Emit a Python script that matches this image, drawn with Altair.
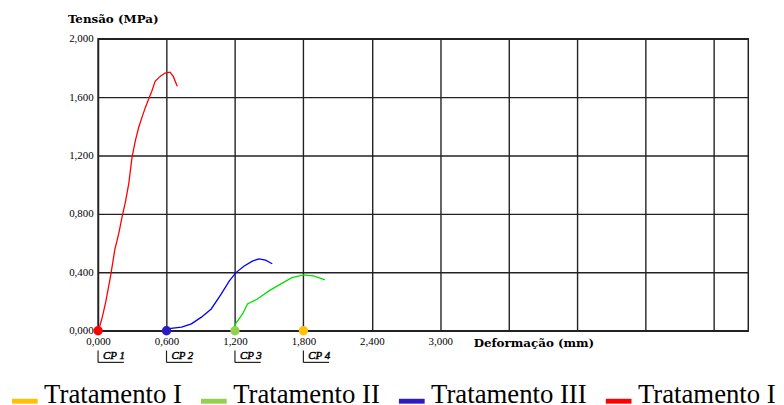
import altair as alt
import pandas as pd

# ---- data ----
series_names = ["Tratamento I", "Tratamento II", "Tratamento III", "Tratamento IV"]

# Tratamento IV (red curve, CP 1)
iv_x = [0.0, 0.017, 0.037, 0.067, 0.110, 0.147, 0.182, 0.211, 0.240, 0.269, 0.298, 0.327,
        0.356, 0.384, 0.414, 0.442, 0.471, 0.500, 0.544, 0.587, 0.631, 0.659, 0.694]
iv_y = [0.0, 0.036, 0.093, 0.195, 0.375, 0.556, 0.669, 0.782, 0.883, 1.008, 1.189, 1.302,
        1.392, 1.460, 1.528, 1.584, 1.641, 1.708, 1.742, 1.765, 1.771, 1.742, 1.675]

# Tratamento III (blue curve, CP 2)
iii_x = [0.600, 0.622, 0.732, 0.818, 0.906, 0.992, 1.079, 1.151, 1.209, 1.281, 1.353, 1.410, 1.468, 1.527]
iii_y = [0.0, 0.014, 0.025, 0.047, 0.093, 0.149, 0.250, 0.341, 0.398, 0.443, 0.477, 0.492, 0.483, 0.459]

# Tratamento II (green curve, CP 3)
ii_x = [1.200, 1.205, 1.267, 1.310, 1.397, 1.498, 1.599, 1.700, 1.800, 1.888, 1.989]
ii_y = [0.020, 0.047, 0.115, 0.183, 0.217, 0.273, 0.319, 0.364, 0.382, 0.375, 0.348]

# start markers of each specimen
marker_series = ["Tratamento I", "Tratamento II", "Tratamento III", "Tratamento IV"]
marker_x = [1.8, 1.2, 0.6, 0.0]
marker_y = [0.0, 0.0, 0.0, 0.0]

# specimen labels
cp_labels = ["CP 1", "CP 2", "CP 3", "CP 4"]
cp_x = [0.0, 0.6, 1.2, 1.8]

# axis ticks
x_ticks = [round(0.3 * i, 1) for i in range(20)]
y_ticks = [round(0.2 * i, 1) for i in range(11)]

legend_colors = ["#FFC000", "#92D050", "#2B1BC0", "#FF0000"]
line_colors = ["#FFC000", "#00E000", "#0000FF", "#FF0000"]

# ---- build tables ----
lines_df = pd.concat([
    pd.DataFrame({"x": iv_x, "y": iv_y, "serie": "Tratamento IV"}),
    pd.DataFrame({"x": iii_x, "y": iii_y, "serie": "Tratamento III"}),
    pd.DataFrame({"x": ii_x, "y": ii_y, "serie": "Tratamento II"}),
], ignore_index=True)
markers_df = pd.DataFrame({"x": marker_x, "y": marker_y, "serie": marker_series})
cp_df = pd.DataFrame({"x": cp_x, "label": cp_labels})

SERIF = "Liberation Serif"
BOLD_SERIF = "DejaVu Serif"
fmt = "replace(format(datum.value, '.3f'), '.', ',')"

x_scale = alt.Scale(domain=[0, 5.7], nice=False, zero=False)
y_scale = alt.Scale(domain=[0, 2.0], nice=False)

x_axis = alt.Axis(
    values=x_ticks,
    labelExpr="datum.value <= 3.05 && round(datum.value * 10) % 6 == 0 ? " + fmt + " : ''",
    title="Deformação (mm)", titleX=379, titleY=16, titleAlign="left",
    titleBaseline="alphabetic", titleAnchor="start",
    titleFont=BOLD_SERIF, titleFontSize=12, titleFontWeight="bold", titleColor="#000",
    labelFont=SERIF, labelFontSize=11, labelFontWeight="normal", labelColor="#000",
    labelPadding=5, labelFlush=False, labelOverlap=False,
    ticks=False, domain=False,
    grid=True, gridColor="#222", gridWidth=1.4, gridOpacity=1,
)
y_axis = alt.Axis(
    values=y_ticks,
    labelExpr="round(datum.value * 10) % 4 == 0 ? " + fmt + " : ''",
    title="Tensão (MPa)", titleAngle=0, titleX=-31, titleY=-16, titleAlign="left",
    titleBaseline="alphabetic",
    titleFont=BOLD_SERIF, titleFontSize=12, titleFontWeight="bold", titleColor="#000",
    labelFont=SERIF, labelFontSize=11, labelFontWeight="normal", labelColor="#000",
    labelPadding=5, labelFlush=False, labelOverlap=False,
    ticks=False, domain=False,
    grid=True, gridColor="#222", gridWidth=1.4, gridOpacity=1,
)

lines = alt.Chart(lines_df).mark_line(strokeWidth=1.3, clip=False).encode(
    x=alt.X("x:Q", scale=x_scale, axis=x_axis),
    y=alt.Y("y:Q", scale=y_scale, axis=y_axis),
    color=alt.Color("serie:N", scale=alt.Scale(domain=series_names, range=line_colors), legend=None),
    detail="serie:N",
)

markers = alt.Chart(markers_df).mark_point(filled=True, size=90, opacity=1, clip=False).encode(
    x=alt.X("x:Q", scale=x_scale),
    y=alt.Y("y:Q", scale=y_scale),
    color=alt.Color(
        "serie:N",
        scale=alt.Scale(domain=series_names, range=legend_colors),
        legend=alt.Legend(
            title=None, orient="none", direction="horizontal",
            legendX=-87.5, legendY=346,
            labelFont=SERIF, labelFontSize=27, labelColor="#000", labelLimit=400,
            labelOffset=6, columnPadding=18,
            symbolType="M-1,0.31H1V0.69H-1Z", symbolSize=676,
            symbolStrokeWidth=0, symbolOpacity=1,
        ),
    ),
)

cp_text = alt.Chart(cp_df).mark_text(
    align="left", baseline="middle", dx=5, font=SERIF, fontSize=11,
    fontStyle="italic", fontWeight="normal", color="#000",
    stroke="#000", strokeWidth=0.45,
).encode(
    x=alt.X("x:Q", scale=x_scale),
    y=alt.value(320.5),
    text="label:N",
)

cp_vert = alt.Chart(cp_df).mark_rule(color="#222", strokeWidth=1.2).encode(
    x=alt.X("x:Q", scale=x_scale),
    y=alt.value(315),
    y2=alt.value(327),
)
cp_horiz = alt.Chart(cp_df).mark_rule(color="#222", strokeWidth=1.2, x2Offset=26).encode(
    x=alt.X("x:Q", scale=x_scale),
    x2="x:Q",
    y=alt.value(327),
)

chart = alt.layer(lines, markers, cp_vert, cp_horiz, cp_text).resolve_scale(
    color="independent"
).properties(
    width=657, height=295,
    autosize=alt.AutoSizeParams(type="none"),
    padding={"left": 91, "top": 29, "right": 28, "bottom": 73},
    background="white",
).configure_view(
    stroke="#222", strokeWidth=1.5,
)

chart.save("out.html", embed_options={"renderer": "svg", "actions": False})
